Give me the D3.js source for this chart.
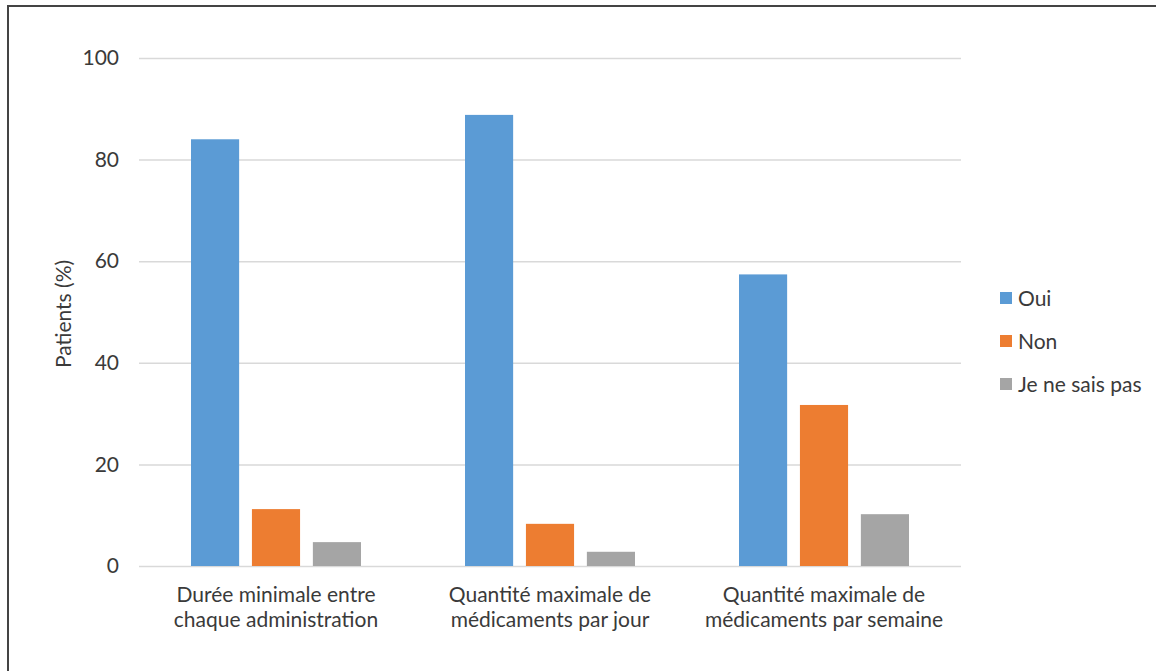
<!DOCTYPE html>
<html><head><meta charset="utf-8">
<script src="https://cdn.jsdelivr.net/npm/d3@7"></script>
<style>html,body{margin:0;padding:0;background:#fff;}svg{display:block;font-family:Lato,"Open Sans",sans-serif;}</style>
</head><body>
<script>
const categories = [["Durée minimale entre","chaque administration"],["Quantité maximale de","médicaments par jour"],["Quantité maximale de","médicaments par semaine"]];
const seriesNames = ["Oui","Non","Je ne sais pas"];
const oui = [84, 88.8, 57.4];
const non = [11.2, 8.3, 31.7];
const nsp = [4.7, 2.8, 10.2];
const yTicks = [0,20,40,60,80,100];
const colors = ["#5B9BD5","#ED7D31","#A5A5A5"];
const values = [oui, non, nsp];

const W = 1156, H = 671, FS = 21, TXT = "#3a3a3a";
const svg = d3.select("body").append("svg").attr("width",W).attr("height",H);
svg.append("rect").attr("x",8).attr("y",6).attr("width",W+20).attr("height",H+20)
  .attr("fill","none").attr("stroke","#444").attr("stroke-width",2);

const x0 = d3.scaleBand().domain(d3.range(categories.length)).range([139,961]).paddingInner(0).paddingOuter(0);
const x1 = d3.scaleBand().domain(d3.range(seriesNames.length)).range([52, 274-52]).paddingInner(0.21).paddingOuter(0);
const y = d3.scaleLinear().domain([0,100]).range([566,58]);

const yAxis = d3.axisLeft(y).tickValues(yTicks).tickSize(-(961-139)).tickPadding(20);
const gy = svg.append("g").attr("transform","translate(139,0)").call(yAxis);
gy.select(".domain").remove();
gy.selectAll(".tick line").attr("stroke","#D9D9D9").attr("stroke-width",1.5);
gy.selectAll(".tick text").attr("font-size",FS).attr("fill",TXT).attr("font-family","Lato");

const groups = svg.append("g").selectAll("g").data(categories).join("g")
  .attr("transform",(d,i)=>`translate(${x0(i)},0)`);
groups.selectAll("rect").data((d,i)=>values.map((s,k)=>({k, v:s[i]}))).join("rect")
  .attr("x",d=>x1(d.k)).attr("width",x1.bandwidth())
  .attr("y",d=>y(d.v)).attr("height",d=>y(0)-y(d.v))
  .attr("fill",d=>colors[d.k]);

groups.each(function(d,i){
  const t = d3.select(this).append("text").attr("text-anchor","middle")
    .attr("font-size",FS).attr("fill",TXT);
  d.forEach((line,j)=>t.append("tspan").attr("x",x0.bandwidth()/2).attr("y",602+j*25).text(line));
});

svg.append("text").attr("transform","translate(71,314) rotate(-90)")
  .attr("text-anchor","middle").attr("font-size",FS).attr("fill",TXT).text("Patients (%)");

const leg = svg.append("g").selectAll("g").data(seriesNames).join("g")
  .attr("transform",(d,i)=>`translate(1000,${292+i*43})`);
leg.append("rect").attr("width",12).attr("height",12).attr("fill",(d,i)=>colors[i]);
leg.append("text").attr("x",18).attr("y",13.5).attr("font-size",FS).attr("fill",TXT).text(d=>d);
</script>
</body></html>
